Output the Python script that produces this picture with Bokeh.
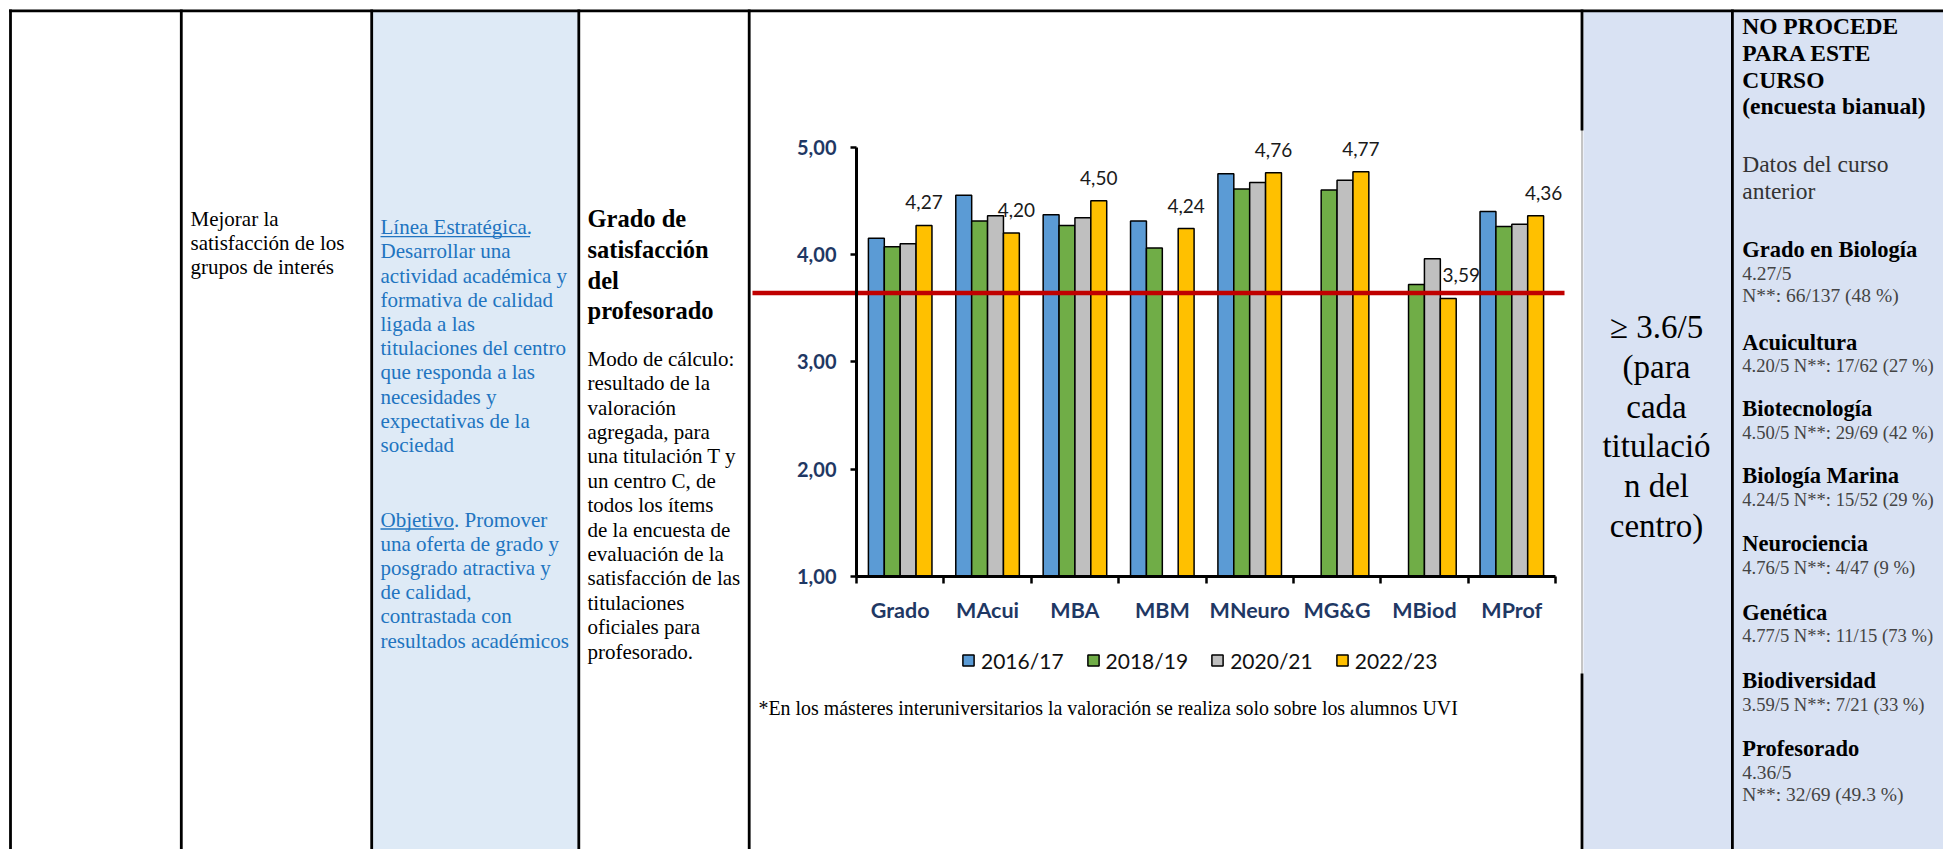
import math
from bokeh.plotting import figure
from bokeh.models import (Range1d, LinearAxis, FixedTicker, ColumnDataSource,
                          Legend, LegendItem)
from bokeh.core.properties import value
from bokeh.transform import dodge
from bokeh.embed import file_html
from bokeh.resources import INLINE

NaN = float("nan")

# ---------------- data ----------------
categories = ["Grado", "MAcui", "MBA", "MBM", "MNeuro", "MG&G", "MBiod", "MProf"]
years = ["2016/17", "2018/19", "2020/21", "2022/23"]
sat_2016_17 = [4.15, 4.55, 4.37, 4.31, 4.75, NaN, NaN, 4.40]
sat_2018_19 = [4.07, 4.31, 4.27, 4.06, 4.61, 4.60, 3.72, 4.26]
sat_2020_21 = [4.10, 4.36, 4.34, NaN, 4.67, 4.69, 3.96, 4.28]
sat_2022_23 = [4.27, 4.20, 4.50, 4.24, 4.76, 4.77, 3.59, 4.36]
y_ticks = [1, 2, 3, 4, 5]
target_line = 3.64

programmes = ["Grado en Biología", "Acuicultura", "Biotecnología", "Biología Marina",
              "Neurociencia", "Genética", "Biodiversidad", "Profesorado"]
responses = ["66/137 (48 %)", "17/62 (27 %)", "29/69 (42 %)", "15/52 (29 %)",
             "4/47 (9 %)", "11/15 (73 %)", "7/21 (33 %)", "32/69 (49.3 %)"]

# ---------------- layout constants (page pixels) ----------------
W, H = 1943, 849
PX0, PX1 = 0, W
PY0, PY1 = 0, H
PLOT_L, PLOT_R = 856.0, 1555.0
PLOT_T, PLOT_B = 146.5, 576.0
Y_MIN, Y_MAX = 1.0, 5.0
ncat = len(categories)
u = (PLOT_R - PLOT_L) / ncat
kv = (Y_MAX - Y_MIN) / (PLOT_B - PLOT_T)

NAVY = "#1F3864"
BLUE_TXT = "#2174C0"
SERIF = "Liberation Serif"
SANS = "Lato"

p = figure(width=W, height=H, x_range=Range1d(PX0, PX1), y_range=Range1d(PY1, PY0),
           output_backend="svg", toolbar_location=None,
           x_axis_location=None, y_axis_location=None, min_border=0,
           outline_line_color=None, background_fill_color="white",
           border_fill_color="white")
p.grid.visible = False
p.extra_x_ranges = {"cat": Range1d((PX0 - PLOT_L) / u, (PX1 - PLOT_L) / u)}
p.extra_y_ranges = {"val": Range1d(Y_MIN - (PY1 - PLOT_B) * kv, Y_MAX + (PLOT_T - PY0) * kv)}

# ---------------- table backgrounds ----------------
p.quad(left=[372.5, 1583], right=[577.2, PX1 + 5], top=[11.5, 11.5], bottom=[PY1 + 5, PY1 + 5],
       fill_color=["#DEEAF6", "#D9E2F3"], line_color=None)

# ---------------- table borders ----------------
p.segment(x0=[8.5], x1=[PX1 + 5], y0=[10.4], y1=[10.4], line_color="black", line_width=2.7)
vx = [10.0, 180.8, 371.2, 578.3, 748.7, 1731.9]
p.segment(x0=vx, x1=vx, y0=[9] * len(vx), y1=[PY1 + 5] * len(vx), line_color="black", line_width=2.8)
p.segment(x0=[1581.5], x1=[1581.5], y0=[9], y1=[PY1 + 5], line_color="#8a8a8a", line_width=1)
p.segment(x0=[1581.5, 1581.5], x1=[1581.5, 1581.5], y0=[9, 673], y1=[130, PY1 + 5],
          line_color="black", line_width=2.8)


def add_text(x, y, s, size, color="black", bold=False, align="left", font=SERIF):
    p.text(x=[x], y=[y], text=[s], text_font=value(font), text_font_size=value(f"{size}px"),
           text_font_style="bold" if bold else "normal", text_color=color,
           text_align=align, text_baseline="middle")


# column 2
for i, s in enumerate(["Mejorar la", "satisfacción de los", "grupos de interés"]):
    add_text(190, 218.3 + 24.2 * i, s, 21)

# column 3 (blue)
col3a = ["Línea Estratégica.", "Desarrollar una", "actividad académica y", "formativa de calidad",
         "ligada a las", "titulaciones del centro", "que responda a las", "necesidades y",
         "expectativas de la", "sociedad"]
for i, s in enumerate(col3a):
    add_text(380, 226.7 + 24.2 * i, s, 21, color=BLUE_TXT)
col3b = ["Objetivo. Promover", "una oferta de grado y", "posgrado atractiva y", "de calidad,",
         "contrastada con", "resultados académicos"]
for i, s in enumerate(col3b):
    add_text(380, 519 + 24.2 * i, s, 21, color=BLUE_TXT)
p.segment(x0=[380, 380], x1=[529.5, 453.5], y0=[236.2, 528.5], y1=[236.2, 528.5],
          line_color=BLUE_TXT, line_width=1.3)

# column 4
for i, s in enumerate(["Grado de", "satisfacción", "del", "profesorado"]):
    add_text(587, 218.3 + 30.6 * i, s, 24.5, bold=True)
col4 = ["Modo de cálculo:", "resultado de la", "valoración", "agregada, para",
        "una titulación T y", "un centro C, de", "todos los ítems", "de la encuesta de",
        "evaluación de la", "satisfacción de las", "titulaciones", "oficiales para",
        "profesorado."]
for i, s in enumerate(col4):
    add_text(587, 358.3 + 24.4 * i, s, 21)

# column 7
for i, s in enumerate(["≥ 3.6/5", "(para", "cada", "titulació", "n del", "centro)"]):
    add_text(1656, 326.7 + 39.7 * i, s, 33, align="center")

# column 8
C8X = 1741.7
for i, s in enumerate(["NO PROCEDE", "PARA ESTE", "CURSO", "(encuesta bianual)"]):
    add_text(C8X, 25.5 + 26.8 * i, s, 23.5, bold=True)
add_text(C8X, 163.5, "Datos del curso", 23.5, color="#333333")
add_text(C8X, 190.0, "anterior", 23.5, color="#333333")
head_y = [249.0, 341.7, 408.3, 475.0, 543.3, 611.7, 680.0, 748.3]
for i, (name, resp, v) in enumerate(zip(programmes, responses, sat_2022_23)):
    add_text(C8X, head_y[i], name, 22.5, bold=True)
    score = f"{v:.2f}/5"
    if i in (0, len(programmes) - 1):
        add_text(C8X, head_y[i] + 23.5, score, 19.5, color="#444444")
        add_text(C8X, head_y[i] + 45.5, f"N**: {resp}", 19.5, color="#444444")
    else:
        add_text(C8X, head_y[i] + 23.5, f"{score} N**: {resp}", 18.6, color="#444444")

# ---------------- chart ----------------
colors = ["#5B9BD5", "#70AD47", "#BFBFBF", "#FFC000"]
offsets = [-0.2727, -0.0909, 0.0909, 0.2727]
bar_w = 0.182
src = ColumnDataSource(dict(x=[i + 0.5 for i in range(ncat)], s0=sat_2016_17, s1=sat_2018_19,
                            s2=sat_2020_21, s3=sat_2022_23))
items = []
for j, (name, col) in enumerate(zip(years, ["s0", "s1", "s2", "s3"])):
    r = p.vbar(x=dodge("x", offsets[j]), top=col, bottom=Y_MIN, width=bar_w, source=src,
               x_range_name="cat", y_range_name="val", fill_color=colors[j],
               line_color="black", line_width=1.5)
    items.append(LegendItem(label=name, renderers=[r]))

# value labels (2022/23)
label_dx = [0, 5, 0, 0, 0, 0, 13, 8]
lab_src = ColumnDataSource(dict(x=[i + 0.5 for i in range(ncat)], y=sat_2022_23,
                                t=[f"{v:.2f}".replace(".", ",") for v in sat_2022_23],
                                dx=label_dx))
p.text(x=dodge("x", offsets[3]), y="y", text="t", x_offset="dx", y_offset=-23, source=lab_src,
       x_range_name="cat", y_range_name="val", text_font=value(SANS),
       text_font_size=value("19px"), text_color="#1a1a1a", text_align="center",
       text_baseline="middle")

# target line
p.segment(x0=[752], x1=[1564], y0=[target_line], y1=[target_line], y_range_name="val",
          line_color="#C00000", line_width=4.5)

# axes
yax = LinearAxis(x_range_name="cat", y_range_name="val", fixed_location=0, bounds=(Y_MIN, Y_MAX),
                 ticker=FixedTicker(ticks=y_ticks, minor_ticks=[]),
                 major_label_overrides={t: f"{t:.2f}".replace(".", ",") for t in y_ticks})
yax.axis_line_width = 3
yax.axis_line_color = "black"
yax.major_tick_line_width = 2.5
yax.major_tick_in = 0
yax.major_tick_out = 6
yax.minor_tick_line_color = None
yax.major_label_standoff = 14
yax.major_label_text_font = SANS
yax.major_label_text_font_style = "bold"
yax.major_label_text_font_size = "20px"
yax.major_label_text_color = NAVY
p.add_layout(yax, "left")

xax = LinearAxis(x_range_name="cat", y_range_name="val", fixed_location=Y_MIN, bounds=(0, ncat),
                 ticker=FixedTicker(ticks=list(range(ncat + 1)), minor_ticks=[]),
                 major_label_overrides={i: "" for i in range(ncat + 1)})
xax.axis_line_width = 3
xax.axis_line_color = "black"
xax.major_tick_line_width = 2.5
xax.major_tick_in = 0
xax.major_tick_out = 7
xax.minor_tick_line_color = None
p.add_layout(xax, "below")

cax = LinearAxis(x_range_name="cat", y_range_name="val", fixed_location=Y_MIN,
                 ticker=FixedTicker(ticks=[i + 0.5 for i in range(ncat)], minor_ticks=[]),
                 major_label_overrides={i + 0.5: c for i, c in enumerate(categories)})
cax.axis_line_color = None
cax.major_tick_line_color = None
cax.minor_tick_line_color = None
cax.major_tick_in = 0
cax.major_tick_out = 0
cax.major_label_standoff = 20
cax.major_label_text_font = SANS
cax.major_label_text_font_style = "bold"
cax.major_label_text_font_size = "21.5px"
cax.major_label_text_color = NAVY
p.add_layout(cax, "below")

# legend
LEG_X, LEG_CY, LEG_H = 961, 660, 25
legend = Legend(items=items, orientation="horizontal",
                location=(LEG_X - PX0, PY1 - (LEG_CY + LEG_H / 2)),
                glyph_width=14, glyph_height=14, label_standoff=6, spacing=22,
                padding=0, margin=0, border_line_color=None, background_fill_alpha=0,
                label_text_font=SANS, label_text_font_size="21px", label_text_color="#111111")
p.add_layout(legend)

# footnote
add_text(758, 707, "*En los másteres interuniversitarios la valoración se realiza solo sobre los alumnos UVI",
         19.9)

open("out.html", "w").write(file_html(p, INLINE))
